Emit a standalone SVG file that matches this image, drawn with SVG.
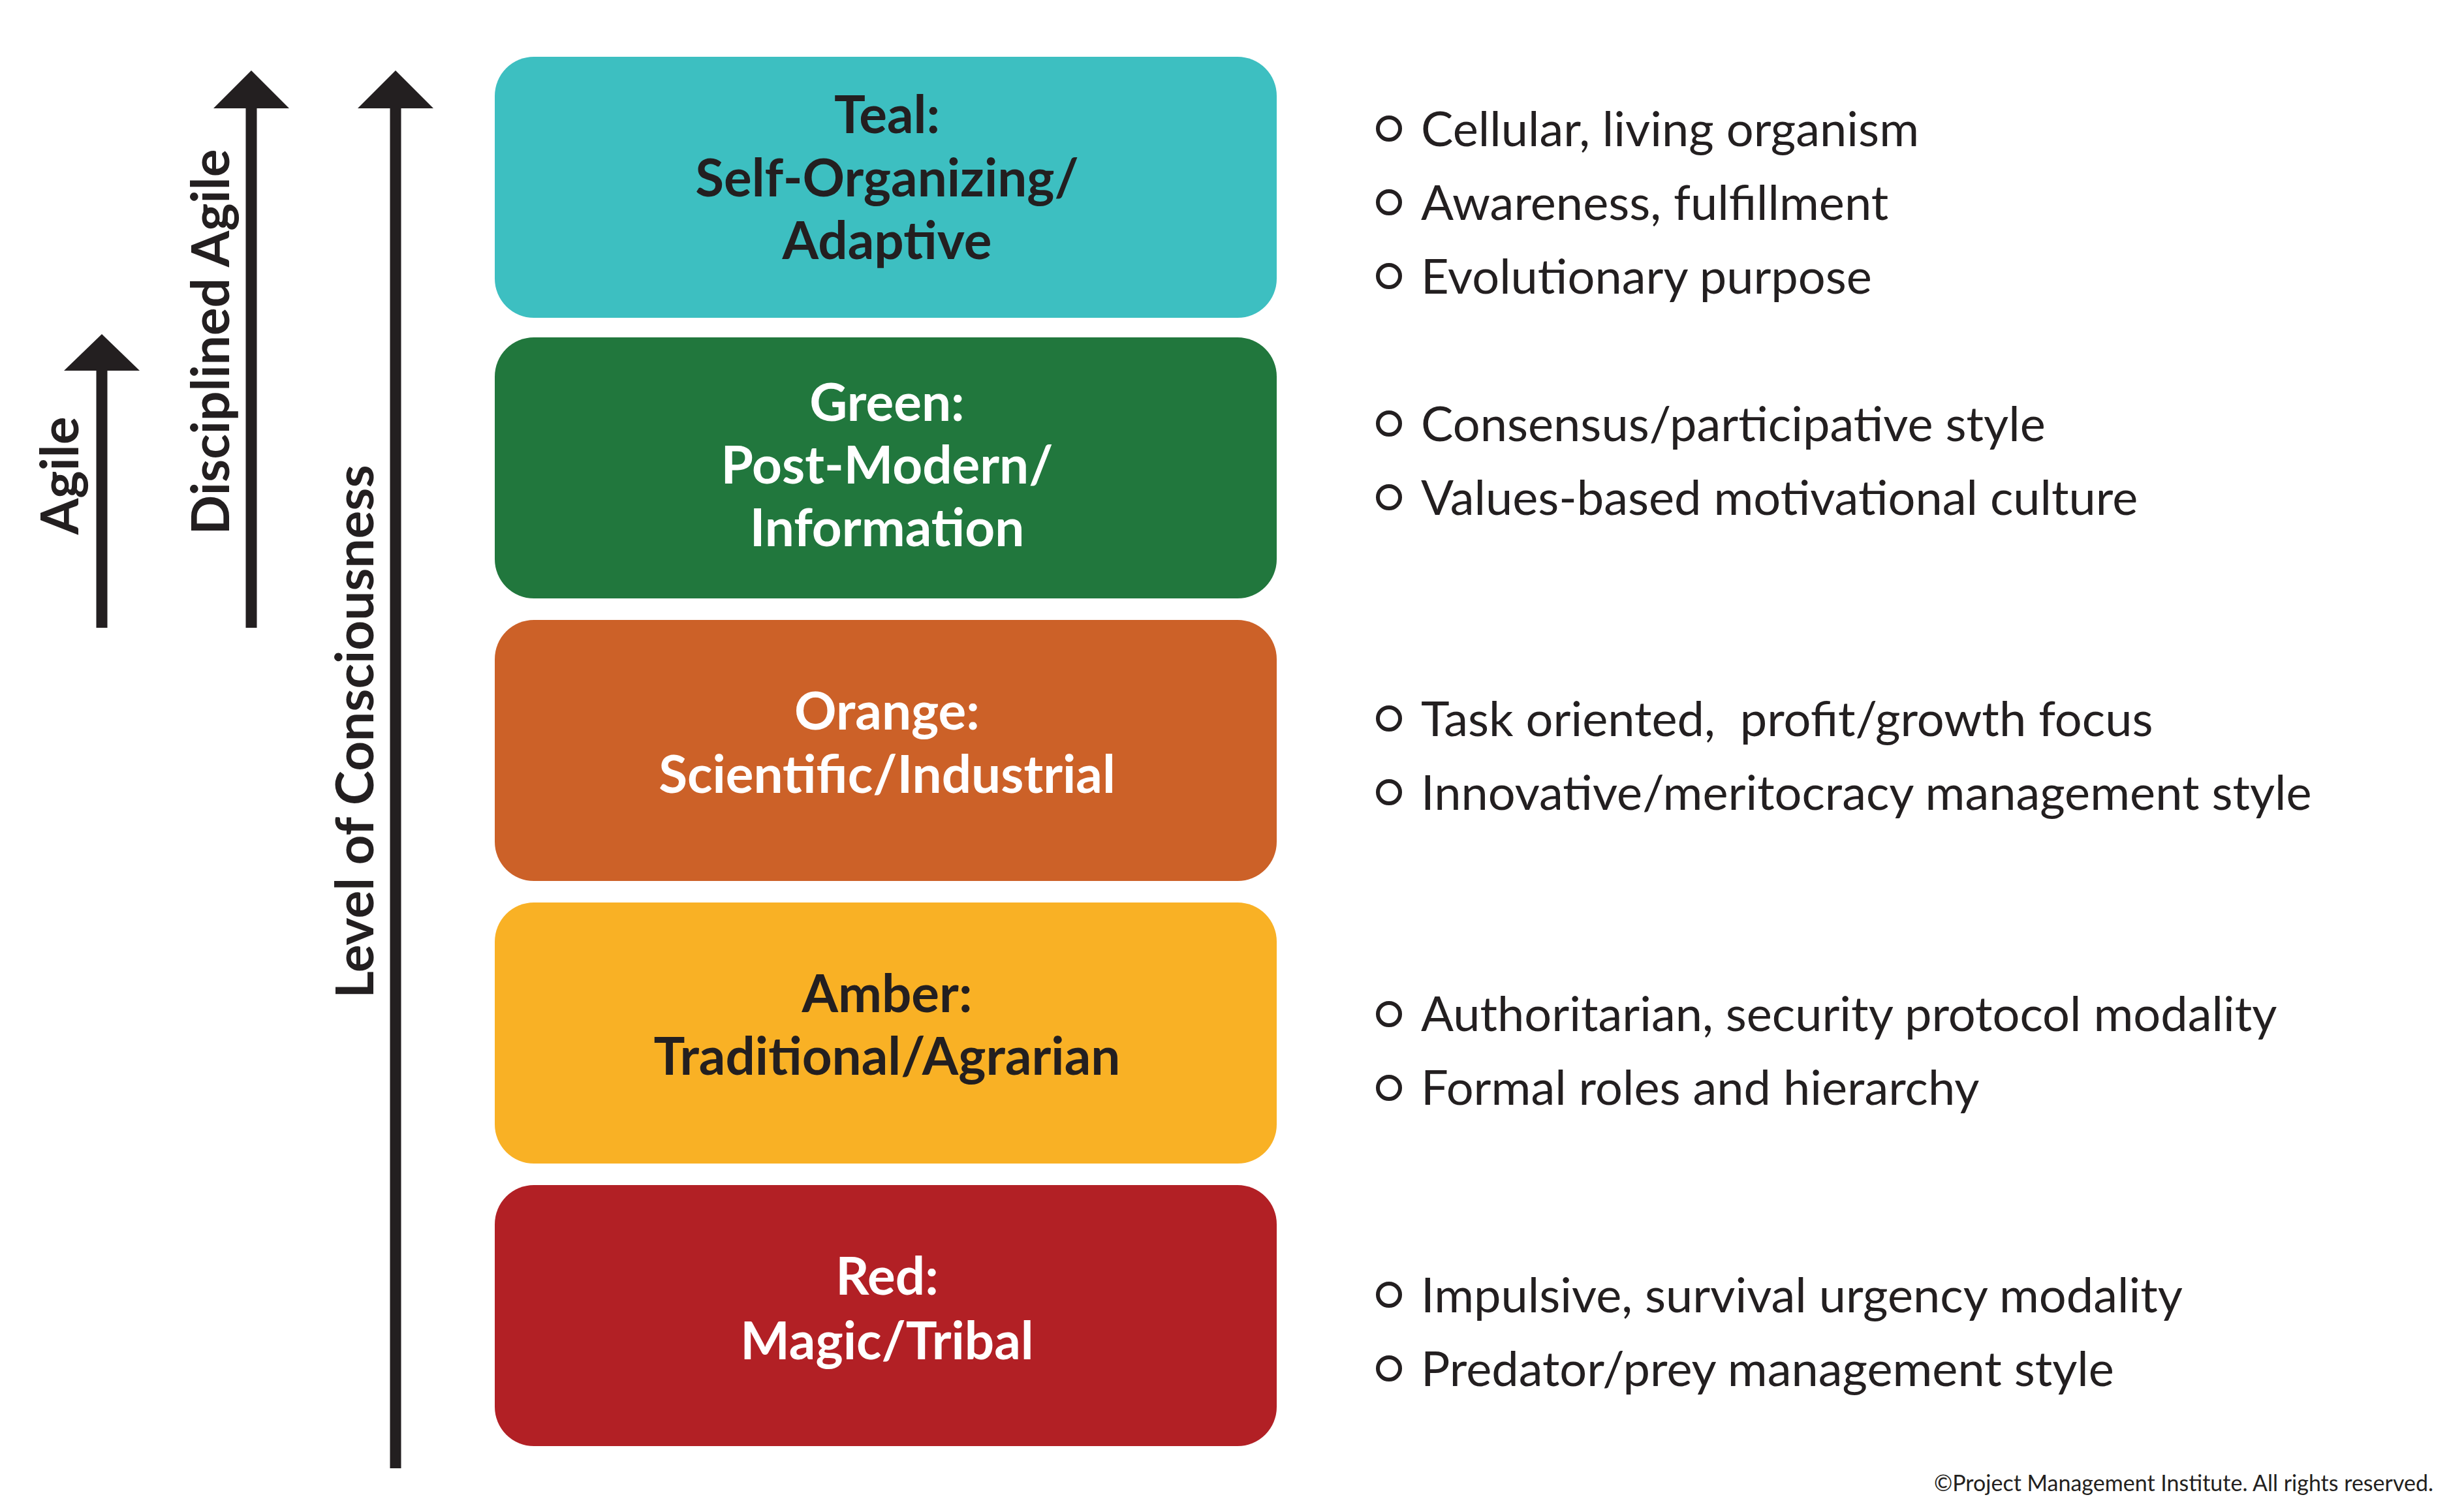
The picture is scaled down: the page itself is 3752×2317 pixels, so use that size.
<svg xmlns="http://www.w3.org/2000/svg" width="3752" height="2317" viewBox="0 0 3752 2317">
<style>
.t{font-family:Lato,"Liberation Sans",sans-serif;font-weight:700;font-size:80px;text-anchor:middle}
.d{fill:#231F20}.w{fill:#fff}
.b{font-family:Lato,"Liberation Sans",sans-serif;font-size:74px;fill:#231F20}
.c{fill:none;stroke:#231F20;stroke-width:6}
.l{font-family:Lato,"Liberation Sans",sans-serif;font-weight:700;font-size:80px;fill:#231F20;text-anchor:middle}
</style>
<rect width="3752" height="2317" fill="#fff"/>
<g id="connectors" fill="#231F20" stroke="#231F20">
<line x1="156" y1="962" x2="156" y2="560" stroke-width="17"/>
<polygon points="156,512 98,568 214,568" stroke="none"/>
<line x1="385" y1="962" x2="385" y2="150" stroke-width="17"/>
<polygon points="385,108 327,166 443,166" stroke="none"/>
<line x1="606" y1="2250" x2="606" y2="150" stroke-width="17"/>
<polygon points="606,108 548,166 664,166" stroke="none"/>
</g>
<g id="labels">
<text class="l" transform="translate(120,729) rotate(-90)">Agile</text>
<text class="l" transform="translate(351,524) rotate(-90)">Disciplined Agile</text>
<text class="l" transform="translate(572,1121) rotate(-90)">Level of Consciousness</text>
</g>
<g id="teal"><rect x="758" y="87" width="1198" height="400" rx="60" fill="#3DBFC1"/>
<text class="t d" x="1359" y="204">Teal:</text><text class="t d" x="1359" y="301">Self-Organizing/</text><text class="t d" x="1359" y="397">Adaptive</text></g>
<g id="green"><rect x="758" y="517" width="1198" height="400" rx="60" fill="#21773D"/>
<text class="t w" x="1359" y="645">Green:</text><text class="t w" x="1359" y="741">Post-Modern/</text><text class="t w" x="1359" y="837">Information</text></g>
<g id="orange"><rect x="758" y="950" width="1198" height="400" rx="60" fill="#CC6128"/>
<text class="t w" x="1359" y="1118">Orange:</text><text class="t w" x="1359" y="1215">Scientific/Industrial</text></g>
<g id="amber"><rect x="758" y="1383" width="1198" height="400" rx="60" fill="#F9B125"/>
<text class="t d" x="1359" y="1551">Amber:</text><text class="t d" x="1359" y="1647">Traditional/Agrarian</text></g>
<g id="red"><rect x="758" y="1816" width="1198" height="400" rx="60" fill="#B22025"/>
<text class="t w" x="1359" y="1984">Red:</text><text class="t w" x="1359" y="2083">Magic/Tribal</text></g>
<g id="bullets">
<circle class="c" cx="2128" cy="197" r="17"/><text class="b" x="2177" y="224">Cellular, living organism</text>
<circle class="c" cx="2128" cy="310" r="17"/><text class="b" x="2177" y="337">Awareness, fulfillment</text>
<circle class="c" cx="2128" cy="423" r="17"/><text class="b" x="2177" y="450">Evolutionary purpose</text>
<circle class="c" cx="2128" cy="649" r="17"/><text class="b" x="2177" y="676">Consensus/participative style</text>
<circle class="c" cx="2128" cy="762" r="17"/><text class="b" x="2177" y="789">Values-based motivational culture</text>
<circle class="c" cx="2128" cy="1101" r="17"/><text class="b" x="2177" y="1128" xml:space="preserve">Task oriented,  profit/growth focus</text>
<circle class="c" cx="2128" cy="1214" r="17"/><text class="b" x="2177" y="1241">Innovative/meritocracy management style</text>
<circle class="c" cx="2128" cy="1554" r="17"/><text class="b" x="2177" y="1580">Authoritarian, security protocol modality</text>
<circle class="c" cx="2128" cy="1667" r="17"/><text class="b" x="2177" y="1693">Formal roles and hierarchy</text>
<circle class="c" cx="2128" cy="1984" r="17"/><text class="b" x="2177" y="2011">Impulsive, survival urgency modality</text>
<circle class="c" cx="2128" cy="2097" r="17"/><text class="b" x="2177" y="2124">Predator/prey management style</text>
</g>
<text x="3728" y="2285" text-anchor="end" font-family="Lato,'Liberation Sans',sans-serif" font-size="34" fill="#231F20">©Project Management Institute. All rights reserved.</text>
</svg>
